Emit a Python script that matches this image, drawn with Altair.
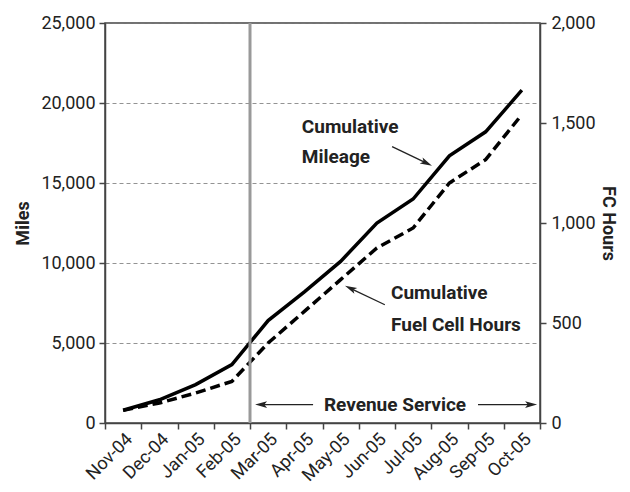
import math
import altair as alt
import pandas as pd

FONT = "Roboto"

months = ["Nov-04", "Dec-04", "Jan-05", "Feb-05", "Mar-05", "Apr-05",
          "May-05", "Jun-05", "Jul-05", "Aug-05", "Sep-05", "Oct-05"]
miles = [800, 1450, 2400, 3650, 6400, 8200, 10100, 12500, 14000, 16700, 18200, 20800]
fc_hours = [63, 100, 150, 208, 400, 558, 717, 875, 975, 1200, 1317, 1542]

miles_ticks = [0, 5000, 10000, 15000, 20000, 25000]
hours_ticks = [0, 500, 1000, 1500, 2000]

# annotations (x in month units from left edge, y in miles)
label_text = ["Cumulative", "Mileage", "Cumulative", "Fuel Cell Hours", "Revenue Service"]
label_x = [5.43, 5.43, 7.89, 7.89, 8.0]
label_y = [18500, 16600, 8150, 6150, 1150]
label_align = ["left", "left", "left", "left", "center"]

arrow_x1 = [7.92, 7.72, 5.74, 10.29]
arrow_y1 = [17270, 7390, 1150, 1150]
arrow_x2 = [9.02, 6.62, 4.14, 11.92]
arrow_y2 = [16080, 8580, 1150, 1150]

service_start = "Mar-05"

W, H = 435, 400
MAXM, MAXH = 25000, 2000
n = len(months)
HEAD = 12  # arrowhead length in px

df = pd.DataFrame({"month": months, "miles": miles, "hours": fc_hours})
lab = pd.DataFrame({"text": label_text, "x": label_x, "y": label_y, "align": label_align})
px_x = W / n
px_y = H / MAXM
angles, hx, hy = [], [], []
for a, b, c, d in zip(arrow_x1, arrow_y1, arrow_x2, arrow_y2):
    dx = (c - a) * px_x
    dy = -(d - b) * px_y
    L = math.hypot(dx, dy)
    angles.append(math.degrees(math.atan2(dx, -dy)) % 360)
    # centre of the head symbol sits half a head-length behind the tip
    hx.append(c - (dx / L) * (HEAD / 2) / px_x)
    hy.append(d + (dy / L) * (HEAD / 2) / px_y)
arr = pd.DataFrame({"ax1": arrow_x1, "ay1": arrow_y1, "ax2": hx, "ay2": hy})
hd = pd.DataFrame({"hx": hx, "hy": hy, "ang": angles})
vl = pd.DataFrame({"vx": [months.index(service_start)]})

band = alt.Scale(type="band", paddingInner=0, paddingOuter=0)
common_axis = dict(domainColor="#444", domainWidth=1.5, tickColor="#444", tickWidth=1.5,
                   tickSize=6, labelFont=FONT, labelFontSize=18, labelColor="#222",
                   titleFont=FONT, titleFontSize=18, titleFontWeight="bold", titleColor="#222")

x_axis = alt.Axis(title=None, labelAngle=-45, tickBand="extent", grid=False,
                  labelPadding=1, **common_axis)

miles_line = alt.Chart(df).mark_line(color="black", strokeWidth=3.5).encode(
    x=alt.X("month:N", sort=months, scale=band, axis=x_axis),
    y=alt.Y("miles:Q", scale=alt.Scale(domain=[0, MAXM]),
            axis=alt.Axis(title="Miles", values=miles_ticks, format=",d", grid=True,
                          gridColor="#777", gridDash=[4, 3], gridWidth=0.8,
                          labelPadding=4, titlePadding=8, **common_axis)),
)

hours_line = alt.Chart(df).mark_line(color="black", strokeWidth=3.5, strokeDash=[10, 5]).encode(
    x=alt.X("month:N", sort=months, scale=band, axis=None),
    y=alt.Y("hours:Q", scale=alt.Scale(domain=[0, MAXH]),
            axis=alt.Axis(title="FC Hours", orient="right", values=hours_ticks, format=",d",
                          grid=False, labelPadding=5, titlePadding=3, **common_axis)),
)

xq = alt.Scale(domain=[0, n])
yq = alt.Scale(domain=[0, MAXM])

vline = alt.Chart(vl).mark_rule(color="#999", strokeWidth=3).encode(
    x=alt.X("vx:Q", scale=xq, axis=None),
    y=alt.value(0), y2=alt.value(H),
)

texts_left = alt.Chart(lab[lab["align"] == "left"]).mark_text(
    align="left", baseline="middle", font=FONT, fontSize=19, fontWeight="bold", color="#222"
).encode(x=alt.X("x:Q", scale=xq, axis=None), y=alt.Y("y:Q", scale=yq, axis=None), text="text:N")

texts_center = alt.Chart(lab[lab["align"] == "center"]).mark_text(
    align="center", baseline="middle", font=FONT, fontSize=19, fontWeight="bold", color="#222"
).encode(x=alt.X("x:Q", scale=xq, axis=None), y=alt.Y("y:Q", scale=yq, axis=None), text="text:N")

arrows = alt.Chart(arr).mark_rule(color="#222", strokeWidth=1.3).encode(
    x=alt.X("ax1:Q", scale=xq, axis=None), y=alt.Y("ay1:Q", scale=yq, axis=None),
    x2="ax2:Q", y2="ay2:Q",
)

ARROW_PATH = "M0,-1L0.55,1L0,0.55L-0.55,1Z"
heads = alt.Chart(hd).mark_point(shape=ARROW_PATH, filled=True, fill="#222", stroke="#222",
                                 strokeWidth=0, size=HEAD * HEAD, opacity=1).encode(
    x=alt.X("hx:Q", scale=xq, axis=None), y=alt.Y("hy:Q", scale=yq, axis=None),
    angle=alt.Angle("ang:Q", scale=None),
)

chart = alt.layer(miles_line, hours_line, vline, texts_left, texts_center, arrows, heads).resolve_scale(
    x="independent", y="independent"
).properties(
    width=W, height=H,
    autosize=alt.AutoSizeParams(type="none"),
    padding={"left": 97, "top": 15, "right": 82, "bottom": 61},
).configure_view(stroke="#444", strokeWidth=1.5)

chart.save("out.html", embed_options={"renderer": "svg", "actions": False})
